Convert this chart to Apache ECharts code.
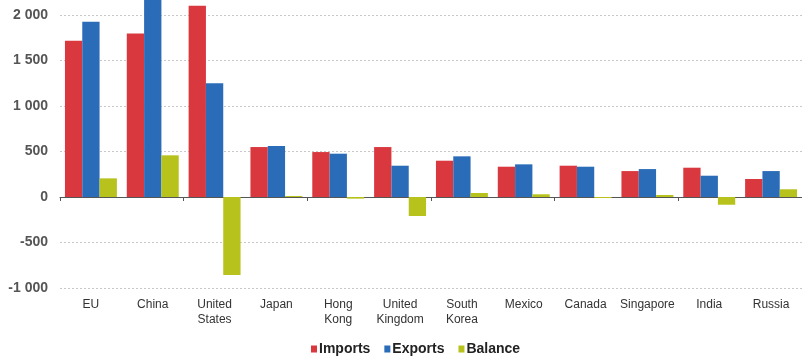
<!DOCTYPE html>
<html>
<head>
<meta charset="utf-8">
<script src="https://cdn.jsdelivr.net/npm/echarts@6/dist/echarts.min.js"></script>
<style>html,body{margin:0;padding:0;background:#fff}#c{width:802px;height:360px}</style>
</head>
<body>
<div id="c"></div>
<script>
const categories = ['EU','China','United\nStates','Japan','Hong\nKong','United\nKingdom','South\nKorea','Mexico','Canada','Singapore','India','Russia'];
const imports = [1717, 1798, 2102, 549, 494, 549, 399, 333, 344, 285, 322, 198];
const exports = [1926, 2210, 1249, 560, 476, 344, 447, 359, 333, 307, 234, 285];
const balance = [205, 458, -857, 11, -18, -209, 44, 30, -11, 22, -85, 85];
const yTicks = [-1000, -500, 0, 500, 1000, 1500, 2000];

const fmt = v => {
  const s = Math.abs(v).toString().replace(/\B(?=(\d{3})+(?!\d))/g, ' ');
  return (v < 0 ? '-' : '') + s;
};

const chart = echarts.init(document.getElementById('c'), null, {renderer: 'canvas'});
chart.setOption({
  animation: false,
  backgroundColor: '#fff',
  grid: {left: 60, right: -7, top: 0, bottom: 72, containLabel: false},
  graphic: [{type: 'rect', shape: {x: 0, y: 0, width: 802, height: 1.5}, style: {fill: '#fff'}, z: 1, silent: true}],
  legend: {
    top: 337,
    left: 306,
    itemWidth: 6,
    itemHeight: 7,
    itemGap: 14,
    icon: 'rect',
    textStyle: {fontFamily: 'Liberation Sans, Arial, sans-serif', fontSize: 14, fontWeight: 'bold', color: '#222', padding: [0, 0, 0, -3]},
    data: ['Imports', 'Exports', 'Balance']
  },
  xAxis: [{
    type: 'category',
    data: categories,
    position: 'bottom',
    axisLine: {onZero: true, lineStyle: {color: '#555', width: 1}},
    axisTick: {show: true, length: 4, lineStyle: {color: '#555'}},
    axisLabel: {show: false},
    splitLine: {show: false}
  }, {
    type: 'category',
    data: categories,
    position: 'bottom',
    axisLine: {show: false, onZero: false},
    axisTick: {show: false},
    axisLabel: {
      margin: 9,
      fontFamily: 'Liberation Sans, Arial, sans-serif',
      fontSize: 12,
      lineHeight: 15,
      color: '#333',
      interval: 0
    }
  }],
  yAxis: {
    type: 'value',
    min: -1000,
    max: 2165,
    interval: 500,
    axisLine: {show: false},
    axisTick: {show: false},
    axisLabel: {
      showMaxLabel: false,
      margin: 12,
      formatter: v => (yTicks.indexOf(v) >= 0 ? fmt(v) : ''),
      fontFamily: 'Liberation Sans, Arial, sans-serif',
      fontSize: 14,
      fontWeight: 'bold',
      color: '#555'
    },
    splitLine: {show: true, lineStyle: {color: '#c8c8c8', type: [2, 2], width: 1}}
  },
  series: [
    {name: 'Imports', type: 'bar', data: imports, xAxisIndex: 0, barGap: '0%', barCategoryGap: '16%', itemStyle: {color: '#d9383f'}, z: 3},
    {name: 'Exports', type: 'bar', data: exports, xAxisIndex: 0, barGap: '0%', barCategoryGap: '16%', itemStyle: {color: '#2b6cb8'}, z: 3},
    {name: 'Balance', type: 'bar', data: balance, xAxisIndex: 0, barGap: '0%', barCategoryGap: '16%', itemStyle: {color: '#b8c21c'}, z: 3}
  ]
});
</script>
</body>
</html>
